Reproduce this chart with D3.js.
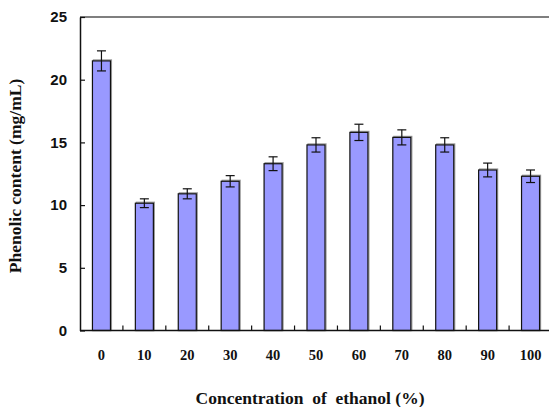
<!DOCTYPE html>
<html>
<head>
<meta charset="utf-8">
<script src="https://cdn.jsdelivr.net/npm/d3@7"></script>
<style>
  html, body { margin: 0; padding: 0; background: #fff; overflow: hidden; }
</style>
</head>
<body>
<div id="chart"></div>
<script>
const categories = ['0', '10', '20', '30', '40', '50', '60', '70', '80', '90', '100'];
const values = [21.5, 10.15, 10.9, 11.9, 13.3, 14.8, 15.8, 15.4, 14.8, 12.8, 12.3];
const errors = [0.8, 0.35, 0.4, 0.45, 0.55, 0.57, 0.65, 0.6, 0.57, 0.55, 0.5];
const yTicks = [0, 5, 10, 15, 20, 25];

const width = 549, height = 407;
const margin = { top: 17, left: 80 };
const plotW = 472, plotH = 313.5;

const svg = d3.select('#chart').append('svg')
  .attr('width', width)
  .attr('height', height);

const g = svg.append('g')
  .attr('transform', `translate(${margin.left},${margin.top})`);

const x = d3.scaleBand()
  .domain(categories)
  .range([0, plotW])
  .paddingInner(0.58)
  .paddingOuter(0.29);

const y = d3.scaleLinear()
  .domain([0, 25])
  .range([plotH, 0]);

const data = categories.map((c, i) => ({ cat: c, value: values[i], err: errors[i] }));

// top frame line
g.append('line')
  .attr('x1', 0).attr('x2', plotW + 10)
  .attr('y1', 0).attr('y2', 0)
  .attr('stroke', '#555')
  .attr('stroke-width', 1.3);

// bar shadows
g.selectAll('rect.shadow')
  .data(data)
  .join('rect')
    .attr('class', 'shadow')
    .attr('x', d => x(d.cat) + 1)
    .attr('y', d => y(d.value) - 1)
    .attr('width', x.bandwidth())
    .attr('height', d => plotH - y(d.value) + 1)
    .attr('fill', 'none')
    .attr('stroke', '#999')
    .attr('stroke-width', 1.2);

g.selectAll('rect.bar')
  .data(data)
  .join('rect')
    .attr('class', 'bar')
    .attr('x', d => x(d.cat))
    .attr('y', d => y(d.value))
    .attr('width', x.bandwidth())
    .attr('height', d => plotH - y(d.value))
    .attr('fill', '#9999ff')
    .attr('stroke', '#111')
    .attr('stroke-width', 1.2);

// error bars
const eb = g.selectAll('g.err')
  .data(data)
  .join('g')
    .attr('class', 'err')
    .attr('transform', d => `translate(${x(d.cat) + x.bandwidth() / 2},0)`)
    .attr('stroke', '#111')
    .attr('stroke-width', 1.2);

eb.append('line')
  .attr('y1', d => y(d.value + d.err))
  .attr('y2', d => y(d.value - d.err));
eb.append('line')
  .attr('x1', -4.5).attr('x2', 4.5)
  .attr('y1', d => y(d.value + d.err))
  .attr('y2', d => y(d.value + d.err));
eb.append('line')
  .attr('x1', -4.5).attr('x2', 4.5)
  .attr('y1', d => y(d.value - d.err))
  .attr('y2', d => y(d.value - d.err));

// y axis
const yAxis = g.append('g')
  .call(d3.axisLeft(y).tickValues(yTicks).tickSizeInner(-5).tickSizeOuter(0).tickPadding(13));
yAxis.select('.domain').attr('stroke', '#111').attr('stroke-width', 1.5);
yAxis.selectAll('line').attr('stroke', '#111').attr('stroke-width', 1.2);
yAxis.selectAll('text')
  .attr('font-family', 'Liberation Sans, Arial, sans-serif')
  .attr('font-size', 15)
  .attr('font-weight', 'bold')
  .attr('fill', '#111');

// x axis with ticks between categories
const xAxis = g.append('g')
  .attr('transform', `translate(0,${plotH})`);
xAxis.append('line')
  .attr('x1', 0).attr('x2', plotW + 10)
  .attr('stroke', '#111').attr('stroke-width', 1.5);
xAxis.selectAll('line.tick')
  .data(categories.slice(1))
  .join('line')
    .attr('class', 'tick')
    .attr('x1', d => x(d) - x.step() * x.paddingInner() / 2)
    .attr('x2', d => x(d) - x.step() * x.paddingInner() / 2)
    .attr('y1', 0).attr('y2', -5)
    .attr('stroke', '#111').attr('stroke-width', 1.2);
xAxis.selectAll('text')
  .data(categories)
  .join('text')
    .attr('x', d => x(d) + x.bandwidth() / 2)
    .attr('y', 29)
    .attr('text-anchor', 'middle')
    .attr('font-family', 'Liberation Serif, Times New Roman, serif')
    .attr('font-size', 14.5)
    .attr('font-weight', 'bold')
    .attr('fill', '#111')
    .text(d => d);

// axis titles
svg.append('text')
  .attr('x', 310)
  .attr('y', 404)
  .attr('text-anchor', 'middle')
  .attr('font-family', 'Liberation Serif, Times New Roman, serif')
  .attr('font-size', 17.5)
  .attr('font-weight', 'bold')
  .attr('fill', '#111')
  .attr('xml:space', 'preserve')
  .style('white-space', 'pre')
  .text('Concentration  of  ethanol (%)');

svg.append('text')
  .attr('transform', 'translate(21,176) rotate(-90)')
  .attr('text-anchor', 'middle')
  .attr('font-family', 'Liberation Serif, Times New Roman, serif')
  .attr('font-size', 17.5)
  .attr('font-weight', 'bold')
  .attr('fill', '#111')
  .text('Phenolic content (mg/mL)');
</script>
</body>
</html>
